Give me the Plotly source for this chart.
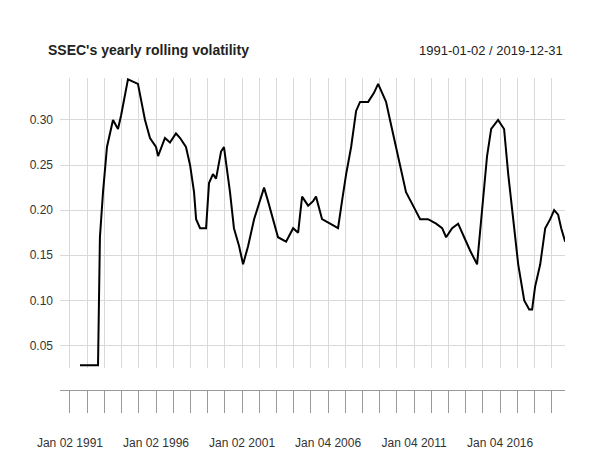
import plotly.graph_objects as go

# decimal years and rolling volatility
years = [1991.58, 1992.63, 1992.74, 1992.92, 1993.15, 1993.5, 1993.79, 1993.97, 1994.37, 1994.95,
         1995.36, 1995.65, 1996.0, 1996.12, 1996.52, 1996.81, 1997.16, 1997.4, 1997.74, 1997.98,
         1998.21, 1998.33, 1998.56, 1998.91, 1999.08, 1999.31, 1999.49, 1999.78, 1999.95, 2000.3,
         2000.53, 2000.83, 2001.06, 2001.35, 2001.7, 2002.05, 2002.28, 2002.51, 2002.8, 2003.09,
         2003.56, 2003.97, 2004.26, 2004.49, 2004.84, 2005.13, 2005.3, 2005.65, 2006.12, 2006.58,
         2006.81, 2007.05, 2007.34, 2007.63, 2007.86, 2008.33, 2008.67, 2008.91, 2009.14, 2009.37,
         2009.6, 2009.84, 2010.19, 2010.53, 2010.94, 2011.35, 2011.81, 2012.28, 2012.63, 2012.86,
         2013.21, 2013.56, 2013.91, 2014.26, 2014.66, 2014.95, 2015.24, 2015.48, 2015.88, 2016.23,
         2016.47, 2016.76, 2017.05, 2017.4, 2017.69, 2017.86, 2018.03, 2018.33, 2018.62, 2018.91,
         2019.14, 2019.37, 2019.55, 2019.78]
vol = [0.028, 0.028, 0.17, 0.22, 0.27, 0.30, 0.29, 0.305, 0.345, 0.34,
       0.30, 0.28, 0.27, 0.26, 0.28, 0.275, 0.285, 0.28, 0.27, 0.25,
       0.22, 0.19, 0.18, 0.18, 0.23, 0.24, 0.235, 0.265, 0.27, 0.22,
       0.18, 0.16, 0.14, 0.16, 0.19, 0.21, 0.225, 0.21, 0.19, 0.17,
       0.165, 0.18, 0.175, 0.215, 0.205, 0.21, 0.215, 0.19, 0.185, 0.18,
       0.21, 0.24, 0.27, 0.31, 0.32, 0.32, 0.33, 0.34, 0.33, 0.32,
       0.30, 0.28, 0.25, 0.22, 0.205, 0.19, 0.19, 0.185, 0.18, 0.17,
       0.18, 0.185, 0.17, 0.155, 0.14, 0.20, 0.26, 0.29, 0.30, 0.29,
       0.24, 0.19, 0.14, 0.10, 0.09, 0.09, 0.115, 0.14, 0.18, 0.19,
       0.20, 0.195, 0.18, 0.165]

tick_years = list(range(1991, 2020))
label_map = {1991: 'Jan 02 1991', 1996: 'Jan 02 1996', 2001: 'Jan 02 2001',
             2006: 'Jan 04 2006', 2011: 'Jan 04 2011', 2016: 'Jan 04 2016'}
tick_text = [label_map.get(y, '') for y in tick_years]

XRANGE = [1990.42, 2019.77]
FONT = 'Liberation Sans, Arial, sans-serif'
L, R, T, B = 52, 56, 70, 10
PW, PH = 613 - L - R, 449 - T - B

fig = go.Figure()
fig.add_trace(go.Scatter(x=years, y=vol, mode='lines', line=dict(color='black', width=2),
                         showlegend=False, hoverinfo='skip'))
# dummy trace for the detached date axis
fig.add_trace(go.Scatter(x=XRANGE, y=[0, 0], xaxis='x2', yaxis='y2', mode='lines',
                         line=dict(width=0), showlegend=False, hoverinfo='skip'))

fig.update_layout(
    width=613, height=449, plot_bgcolor='white', paper_bgcolor='white',
    margin=dict(l=L, r=R, t=T, b=B),
    font=dict(family=FONT, color='#333333', size=12),
    xaxis=dict(range=XRANGE, tickvals=tick_years, showticklabels=False, ticks='', automargin=False,
               showgrid=True, gridcolor='#d9d9d9', gridwidth=1, zeroline=False, showline=False),
    yaxis=dict(domain=[0.214, 1], range=[0.025, 0.3465], tickvals=[0.05, 0.1, 0.15, 0.2, 0.25, 0.3],
               tickformat='.2f', showgrid=True, gridcolor='#d9d9d9', zeroline=False, automargin=False,
               showline=False, ticks='', ticklabelstandoff=6),
    xaxis2=dict(range=XRANGE, anchor='y2', tickvals=tick_years, ticktext=tick_text, automargin=False,
                showgrid=False, showline=True, linecolor='#999999', ticks='outside', ticklen=22,
                tickcolor='#999999', zeroline=False, ticklabelstandoff=20, tickangle=0),
    yaxis2=dict(domain=[0.155, 0.157], visible=False, range=[0, 1], automargin=False),
    annotations=[
        dict(text="<b>SSEC's yearly rolling volatility</b>", x=(38 - L) / PW, y=1 + (T - 42) / PH,
             xref='paper', yref='paper', showarrow=False, xanchor='left', yanchor='middle',
             font=dict(size=14, color='#222222')),
        dict(text='1991-01-02 / 2019-12-31', x=1, y=1 + (T - 42) / PH, xref='paper', yref='paper',
             showarrow=False, xanchor='right', yanchor='middle',
             font=dict(size=13, color='#222222')),
    ],
)

fig.write_html("out.html")
